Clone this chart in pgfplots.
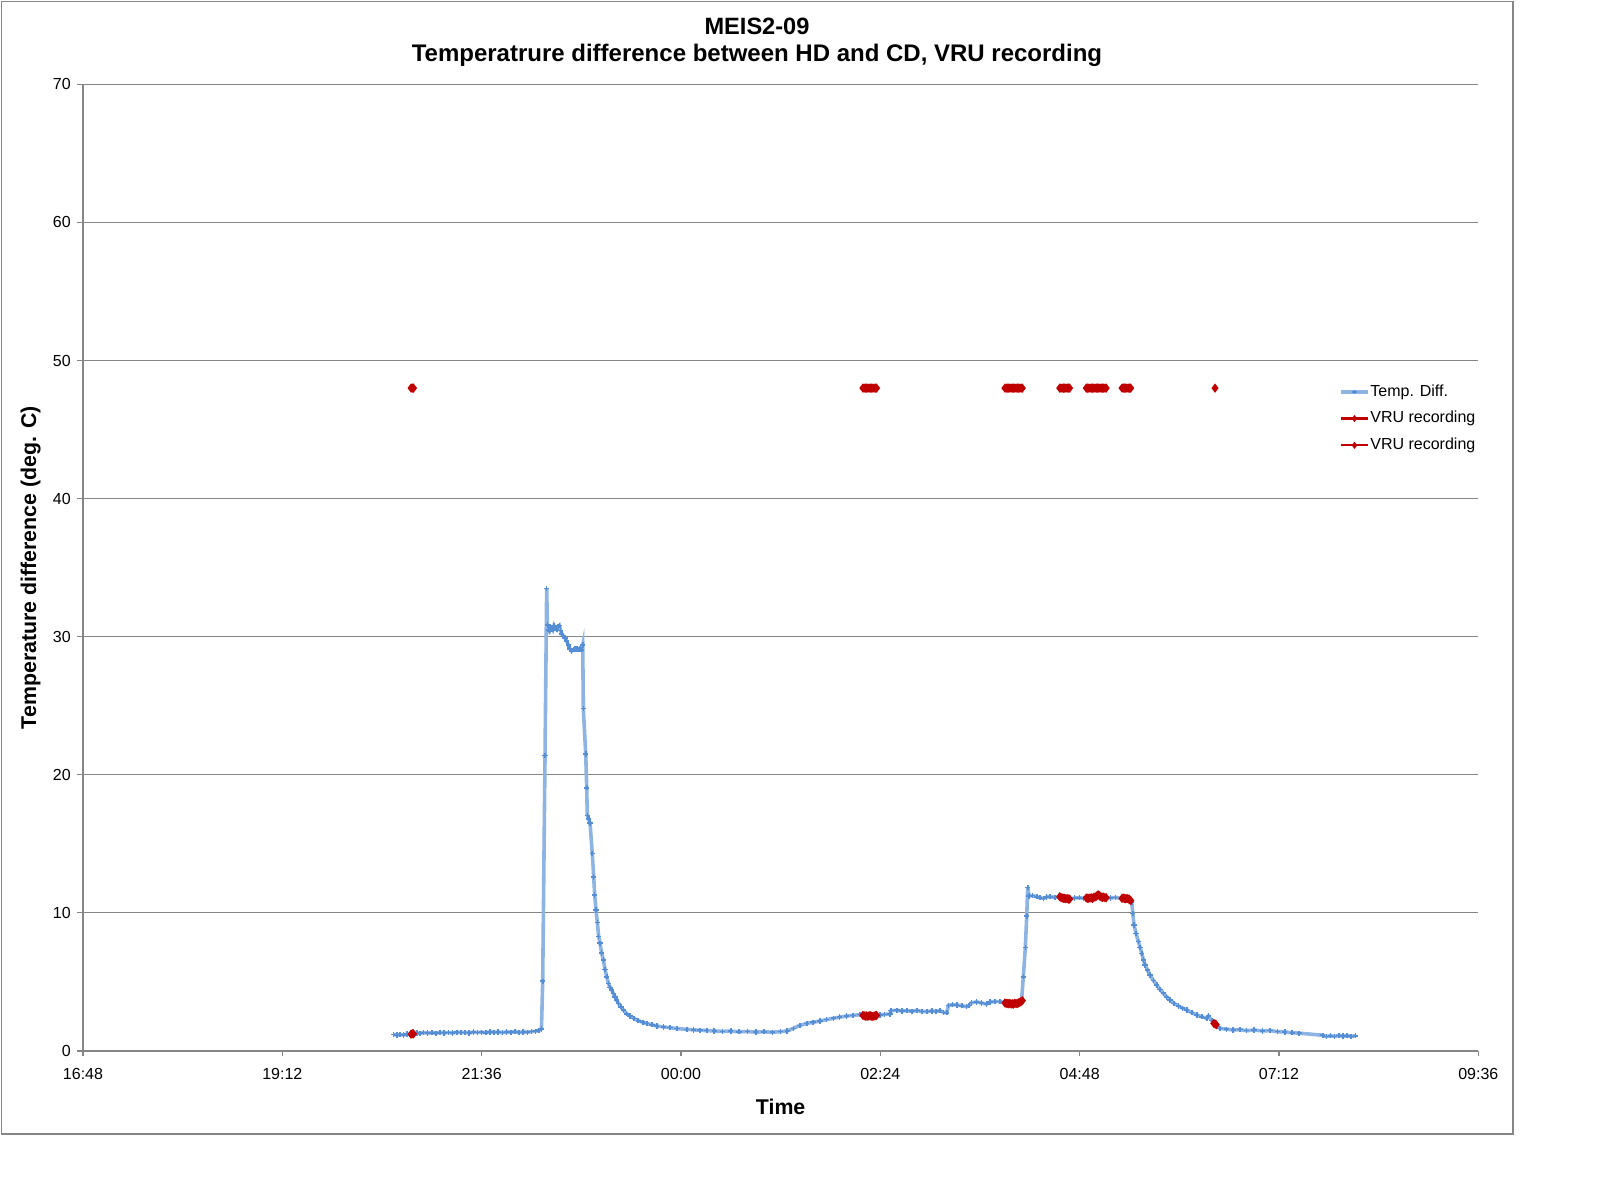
\documentclass[border=0pt]{standalone}
\usepackage{fontspec}
\setmainfont{Liberation Sans}
\usepackage{pgfplots}
\usepackage{pgfplotstable}
\pgfplotsset{compat=1.18}
\definecolor{axgray}{HTML}{868686}
\definecolor{blueline}{HTML}{8DB4E2}
\definecolor{bluemark}{HTML}{558ED5}
\definecolor{vrured}{HTML}{C00000}
\newlength\px \setlength\px{0.75pt}
\pgfplotstableread{
t v
20.54 1.20
20.58 1.15
20.62 1.18
20.66 1.16
20.70 1.22
20.74 1.20
20.78 1.27
20.82 1.30
20.86 1.28
20.90 1.33
20.95 1.30
21.00 1.32
21.05 1.29
21.10 1.35
21.15 1.31
21.20 1.34
21.25 1.30
21.30 1.36
21.35 1.33
21.40 1.35
21.45 1.31
21.50 1.37
21.55 1.34
21.60 1.36
21.65 1.32
21.70 1.38
21.75 1.35
21.80 1.37
21.85 1.33
21.90 1.38
21.95 1.36
22.00 1.39
22.05 1.35
22.10 1.38
22.15 1.36
22.20 1.40
22.25 1.43
22.29 1.50
22.32 1.60
22.335 5.05
22.363 21.4
22.383 33.5
22.391 30.85
22.403 30.5
22.415 30.4
22.430 30.7
22.443 30.65
22.457 30.5
22.471 30.8
22.488 30.6
22.504 30.5
22.520 30.7
22.535 30.8
22.550 30.45
22.564 30.2
22.584 30.05
22.604 29.9
22.623 29.7
22.643 29.4
22.664 29.1
22.684 28.96
22.705 29.05
22.725 29.1
22.745 29.1
22.765 29.08
22.785 29.1
22.805 29.05
22.817 29.4
22.824 24.8
22.853 21.5
22.865 19.06
22.872 17.05
22.890 16.8
22.905 16.5
22.932 14.3
22.949 12.6
22.961 11.3
22.977 10.2
22.993 9.3
23.009 8.3
23.025 7.8
23.045 7.1
23.065 6.6
23.085 5.9
23.106 5.38
23.126 4.9
23.146 4.6
23.166 4.42
23.186 4.15
23.206 3.93
23.226 3.68
23.246 3.45
23.276 3.2
23.306 2.97
23.346 2.7
23.386 2.53
23.436 2.35
23.486 2.19
23.540 2.08
23.588 2.0
23.650 1.9
23.708 1.81
23.790 1.74
23.868 1.69
23.950 1.62
24.069 1.57
24.150 1.53
24.230 1.50
24.310 1.48
24.400 1.45
24.500 1.42
24.600 1.44
24.700 1.39
24.800 1.41
24.900 1.37
25.000 1.39
25.100 1.36
25.200 1.40
25.280 1.45
25.353 1.64
25.430 1.85
25.514 2.0
25.590 2.08
25.674 2.17
25.750 2.27
25.834 2.37
25.910 2.45
25.995 2.53
26.070 2.58
26.156 2.63
26.190 2.58
26.230 2.52
26.276 2.55
26.320 2.50
26.360 2.58
26.397 2.60
26.450 2.65
26.517 2.68
26.530 2.92
26.600 2.95
26.660 2.90
26.718 2.92
26.780 2.88
26.840 2.93
26.900 2.87
26.959 2.85
27.020 2.90
27.070 2.86
27.120 2.92
27.160 2.80
27.200 2.77
27.220 3.30
27.270 3.35
27.320 3.33
27.380 3.28
27.440 3.21
27.470 3.30
27.500 3.50
27.560 3.55
27.620 3.48
27.680 3.40
27.720 3.55
27.780 3.58
27.840 3.57
27.900 3.50
27.950 3.42
28.000 3.40
28.050 3.45
28.100 3.60
28.122 5.38
28.146 7.5
28.163 9.78
28.175 11.85
28.191 11.22
28.230 11.25
28.283 11.17
28.320 11.10
28.363 11.05
28.400 11.15
28.443 11.17
28.500 11.12
28.564 11.17
28.600 11.05
28.640 11.02
28.684 11.0
28.740 11.08
28.800 11.10
28.845 11.05
28.885 11.08
28.930 11.05
28.980 11.15
29.025 11.3
29.070 11.12
29.118 11.1
29.170 11.08
29.230 11.12
29.300 11.05
29.350 11.05
29.400 11.0
29.427 10.8
29.440 9.97
29.455 9.12
29.479 8.52
29.507 7.92
29.528 7.5
29.548 7.07
29.568 6.6
29.588 6.23
29.618 5.85
29.648 5.5
29.688 5.1
29.728 4.78
29.768 4.45
29.808 4.18
29.848 3.92
29.888 3.69
29.938 3.45
29.988 3.26
30.040 3.1
30.089 2.97
30.150 2.78
30.210 2.61
30.270 2.48
30.330 2.37
30.350 2.53
30.390 2.2
30.430 1.96
30.490 1.64
30.570 1.58
30.650 1.52
30.730 1.55
30.810 1.47
30.900 1.52
31.000 1.45
31.090 1.48
31.180 1.40
31.270 1.38
31.360 1.32
31.444 1.29
31.727 1.14
31.770 1.05
31.820 1.10
31.870 1.06
31.920 1.12
31.970 1.08
32.020 1.10
32.070 1.06
32.120 1.10
}\tempdiff
\pgfplotstableread{
t v
20.750 1.22
20.765 1.25
20.780 1.24
nan nan
26.190 2.58
26.205 2.55
26.220 2.52
26.235 2.54
26.250 2.50
26.265 2.56
26.280 2.55
26.295 2.52
26.310 2.50
26.325 2.53
26.340 2.56
26.355 2.58
nan nan
27.900 3.48
27.915 3.45
27.930 3.44
27.945 3.42
27.960 3.45
27.975 3.40
27.990 3.42
28.005 3.40
28.020 3.46
28.035 3.43
28.050 3.45
28.065 3.48
28.080 3.52
28.095 3.58
28.110 3.65
nan nan
28.560 11.17
28.575 11.12
28.590 11.08
28.605 11.05
28.620 11.06
28.635 11.02
28.650 11.04
28.665 11.00
28.680 11.00
nan nan
28.880 11.08
28.895 11.06
28.910 11.05
28.925 11.08
28.940 11.10
28.955 11.05
28.970 11.12
28.985 11.15
29.000 11.20
29.015 11.28
29.030 11.30
29.045 11.20
29.060 11.15
29.075 11.12
29.090 11.15
29.105 11.10
29.120 11.10
nan nan
29.310 11.05
29.325 11.08
29.340 11.05
29.355 11.02
29.370 11.05
29.385 11.00
29.400 10.98
29.415 10.90
nan nan
30.415 2.00
30.430 1.96
30.445 1.90
}\vruon
\pgfplotstableread{
t v
20.750 48
20.765 48
20.780 48
nan nan
26.190 48
26.205 48
26.220 48
26.235 48
26.250 48
26.265 48
26.280 48
26.295 48
26.310 48
26.325 48
26.340 48
26.355 48
nan nan
27.900 48
27.915 48
27.930 48
27.945 48
27.960 48
27.975 48
27.990 48
28.005 48
28.020 48
28.035 48
28.050 48
28.065 48
28.080 48
28.095 48
28.110 48
nan nan
28.560 48
28.575 48
28.590 48
28.605 48
28.620 48
28.635 48
28.650 48
28.665 48
28.680 48
nan nan
28.880 48
28.895 48
28.910 48
28.925 48
28.940 48
28.955 48
28.970 48
28.985 48
29.000 48
29.015 48
29.030 48
29.045 48
29.060 48
29.075 48
29.090 48
29.105 48
29.120 48
nan nan
29.310 48
29.325 48
29.340 48
29.355 48
29.370 48
29.385 48
29.400 48
29.415 48
nan nan
30.430 48
}\vrutop
\begin{document}
\begin{tikzpicture}
\path[use as bounding box] (0,0) rectangle (1598\px,1202\px);
\draw[axgray, line width=1.3\px] (1.7\px,68\px) rectangle (1513\px,1200.3\px);
\node[anchor=base, inner sep=0pt, font=\fontsize{17.7}{20}\selectfont\bfseries] at (757\px,1167.5\px) {MEIS2-09};
\node[anchor=base, inner sep=0pt, font=\fontsize{18}{20}\selectfont\bfseries] at (757\px,1140\px) {Temperatrure difference between HD and CD, VRU recording};
\begin{axis}[
  at={(83\px,151\px)}, anchor=south west,
  scale only axis, width=1395.3\px, height=966.7\px,
  xmin=16.8, xmax=33.6, ymin=0, ymax=70,
  axis x line*=bottom, axis y line*=left,
  axis line style={axgray, line width=1.2\px, -},
  xtick={16.8,19.2,21.6,24,26.4,28.8,31.2,33.6},
  xticklabels={16:48,19:12,21:36,00:00,02:24,04:48,07:12,09:36},
  ytick={0,10,...,70},
  tick align=outside, major tick length=5.5\px,
  tick style={axgray, line width=1.2\px},
  ymajorgrids, grid style={axgray, line width=1.2\px},
  ticklabel style={font=\fontsize{12}{14}\selectfont},
  xticklabel style={yshift=-5.3pt},
  yticklabel style={xshift=-1.5pt},
  /pgf/number format/assume math mode=true,
  xlabel={Time}, ylabel={Temperature difference (deg. C)},
  label style={font=\fontsize{16}{19}\selectfont\bfseries},
  xlabel style={at={(axis description cs:0.5,-0.0575)}, anchor=center},
  ylabel style={at={(axis description cs:-0.0376,0.5)}, anchor=center},
  unbounded coords=jump,
  clip=false,
  legend cell align=left,
  legend style={draw=none, fill=none, inner sep=0pt, at={(0.9002,0.691)}, anchor=north west,
    font=\fontsize{12}{14}\selectfont,
    nodes={inner sep=0.6pt, text height=9pt, text depth=2.5pt},
    row sep=7.4pt},
  legend image code/.code={\draw[mark repeat=2,mark phase=2,#1] plot coordinates {(0pt,0pt) (10pt,0pt) (20pt,0pt)};},
]
\addplot[color=blueline, line width=2.7pt, mark=+, mark size=2pt,
  mark options={color=bluemark, line width=1.2pt, solid},
  legend image post style={mark size=1.6pt}] table[x=t,y=v] {\tempdiff};
\addlegendentry{Temp. Diff.}
\addplot[color=vrured, line width=1.6pt, mark=diamond*, mark size=2.2pt,
  legend image post style={mark size=1.4pt}] table[x=t,y=v] {\vruon};
\addlegendentry{VRU recording}
\addplot[color=vrured, line width=1.6pt, mark=diamond*, mark size=2.2pt,
  legend image post style={mark size=1.4pt}] table[x=t,y=v] {\vrutop};
\addlegendentry{VRU recording}
\end{axis}
\end{tikzpicture}
\end{document}
